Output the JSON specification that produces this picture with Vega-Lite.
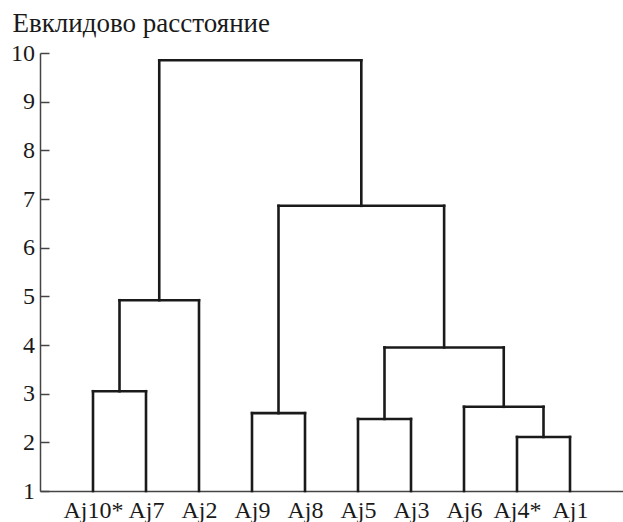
{
  "$schema": "https://vega.github.io/schema/vega-lite/v6.json",
  "width": 583,
  "height": 438,
  "autosize": "none",
  "padding": {"left": 40, "top": 53, "right": 0, "bottom": 31},
  "background": "white",
  "config": {
    "view": {"stroke": null},
    "font": "Liberation Serif",
    "axis": {"grid": false, "labelFont": "Liberation Serif", "titleFont": "Liberation Serif", "labelColor": "#1a1a1a", "titleColor": "#1a1a1a", "domainColor": "#444", "tickColor": "#444", "domainWidth": 1.5, "tickWidth": 1.5}
  },
  "data": {
    "values": [
      {"x": 1, "x2": 2, "y": 3.05, "y2": 3.05},
      {"x": 1, "x2": 1, "y": 1, "y2": 3.05},
      {"x": 2, "x2": 2, "y": 1, "y2": 3.05},
      {"x": 1.5, "x2": 3, "y": 4.92, "y2": 4.92},
      {"x": 1.5, "x2": 1.5, "y": 3.05, "y2": 4.92},
      {"x": 3, "x2": 3, "y": 1, "y2": 4.92},
      {"x": 4, "x2": 5, "y": 2.6, "y2": 2.6},
      {"x": 4, "x2": 4, "y": 1, "y2": 2.6},
      {"x": 5, "x2": 5, "y": 1, "y2": 2.6},
      {"x": 6, "x2": 7, "y": 2.48, "y2": 2.48},
      {"x": 6, "x2": 6, "y": 1, "y2": 2.48},
      {"x": 7, "x2": 7, "y": 1, "y2": 2.48},
      {"x": 9, "x2": 10, "y": 2.11, "y2": 2.11},
      {"x": 9, "x2": 9, "y": 1, "y2": 2.11},
      {"x": 10, "x2": 10, "y": 1, "y2": 2.11},
      {"x": 8, "x2": 9.5, "y": 2.73, "y2": 2.73},
      {"x": 8, "x2": 8, "y": 1, "y2": 2.73},
      {"x": 9.5, "x2": 9.5, "y": 2.11, "y2": 2.73},
      {"x": 6.5, "x2": 8.75, "y": 3.95, "y2": 3.95},
      {"x": 6.5, "x2": 6.5, "y": 2.48, "y2": 3.95},
      {"x": 8.75, "x2": 8.75, "y": 2.73, "y2": 3.95},
      {"x": 4.5, "x2": 7.625, "y": 6.86, "y2": 6.86},
      {"x": 4.5, "x2": 4.5, "y": 2.6, "y2": 6.86},
      {"x": 7.625, "x2": 7.625, "y": 3.95, "y2": 6.86},
      {"x": 2.25, "x2": 6.0625, "y": 9.85, "y2": 9.85},
      {"x": 2.25, "x2": 2.25, "y": 4.92, "y2": 9.85},
      {"x": 6.0625, "x2": 6.0625, "y": 6.86, "y2": 9.85}
    ]
  },
  "mark": {"type": "rule", "color": "#1a1a1a", "strokeWidth": 2.6, "strokeCap": "square"},
  "encoding": {
    "x": {
      "field": "x", "type": "quantitative",
      "scale": {"domain": [0, 11], "nice": false, "zero": false},
      "axis": {
        "title": null,
        "values": [1, 2, 3, 4, 5, 6, 7, 8, 9, 10],
        "ticks": false,
        "tickSize": 0,
        "labelPadding": 7,
        "labelFontSize": 24,
        "labelExpr": "['', 'Aj10*', 'Aj7', 'Aj2', 'Aj9', 'Aj8', 'Aj5', 'Aj3', 'Aj6', 'Aj4*', 'Aj1'][datum.value]"
      }
    },
    "x2": {"field": "x2"},
    "y": {
      "field": "y", "type": "quantitative",
      "scale": {"domain": [1, 10], "nice": false, "zero": false},
      "axis": {
        "title": "Евклидово расстояние",
        "titleAngle": 0,
        "titleAlign": "left",
        "titleBaseline": "alphabetic",
        "titleX": -28,
        "titleY": -22,
        "titleFontSize": 27,
        "titleFontWeight": "normal",
        "values": [1, 2, 3, 4, 5, 6, 7, 8, 9, 10],
        "tickSize": -9,
        "labelPadding": 14.5,
        "labelFontSize": 24
      }
    },
    "y2": {"field": "y2"}
  }
}
